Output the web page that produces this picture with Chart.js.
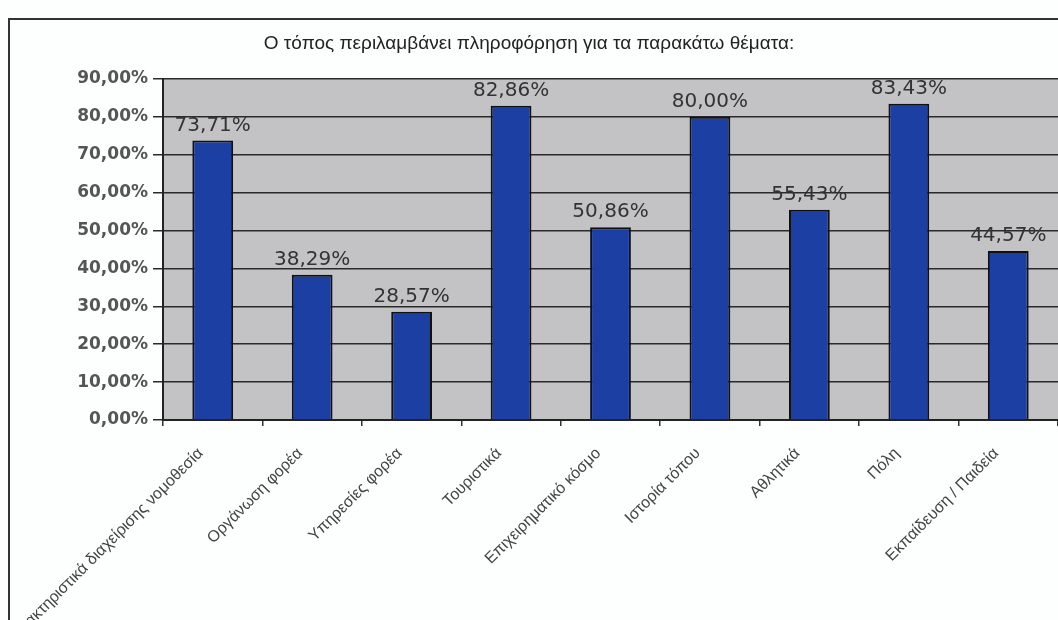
<!DOCTYPE html>
<html>
<head>
    <meta charset="UTF-8">
    <title>Θέματα πληροφόρησης</title>
    <script src="https://cdn.jsdelivr.net/npm/chart.js"></script>
    <style>
        html, body {
            margin: 0;
            padding: 0;
            background: #fdfefe;
        }
        #wrap {
            position: relative;
            width: 1058px;
            height: 620px;
            overflow: hidden;
        }
        #frame {
            position: absolute;
            left: 8px;
            top: 18px;
            width: 1060px;
            height: 610px;
            border-left: 2px solid #333;
            border-top: 2px solid #333;
            pointer-events: none;
        }
    </style>
</head>
<body>
<div id="wrap">
    <canvas id="myBarChart" width="1058" height="620"></canvas>
    <div id="frame"></div>
</div>
<script>
    // δεδομένα του γραφήματος
    const categories = [
        'Χαρακτηριστικά διαχείρισης νομοθεσία',
        'Οργάνωση φορέα',
        'Υπηρεσίες φορέα',
        'Τουριστικά',
        'Επιχειρηματικό κόσμο',
        'Ιστορία τόπου',
        'Αθλητικά',
        'Πόλη',
        'Εκπαίδευση / Παιδεία'
    ];
    const percentValues = [73.71, 38.29, 28.57, 82.86, 50.86, 80.00, 55.43, 83.43, 44.57];
    const yTicks = [0, 10, 20, 30, 40, 50, 60, 70, 80, 90];

    function pct(v) {
        return v.toFixed(2).replace('.', ',') + '%';
    }

    // γκρι φόντο περιοχής σχεδίασης
    const plotBackground = {
        id: 'plotBackground',
        beforeDraw(chart) {
            const a = chart.chartArea;
            const ctx = chart.ctx;
            ctx.save();
            ctx.fillStyle = '#c3c3c5';
            ctx.fillRect(a.left, a.top, a.right - a.left, a.bottom - a.top);
            ctx.restore();
        }
    };

    // ετικέτες τιμών πάνω από τις μπάρες
    const valueLabels = {
        id: 'valueLabels',
        afterDatasetsDraw(chart) {
            const ctx = chart.ctx;
            const meta = chart.getDatasetMeta(0);
            ctx.save();
            ctx.font = '20px "DejaVu Sans"';
            ctx.fillStyle = '#333';
            ctx.textAlign = 'center';
            ctx.textBaseline = 'bottom';
            meta.data.forEach((bar, i) => {
                ctx.fillText(pct(percentValues[i]), bar.x, bar.y - 5);
            });
            ctx.restore();
        }
    };

    let ctx = document.getElementById('myBarChart').getContext('2d');
    new Chart(ctx, {
        type: 'bar',
        data: {
            labels: categories,
            datasets: [{
                data: percentValues,
                backgroundColor: '#1c3fa3',
                borderColor: '#111',
                borderWidth: 2,
                categoryPercentage: 1,
                barPercentage: 0.41
            }]
        },
        options: {
            responsive: false,
            animation: false,
            layout: {padding: {left: 0, right: 0, top: 0, bottom: 0}},
            plugins: {
                legend: {display: false},
                tooltip: {enabled: false},
                title: {
                    display: true,
                    text: 'Ο τόπος περιλαμβάνει πληροφόρηση για τα παρακάτω θέματα:',
                    color: '#222',
                    font: {family: 'Liberation Sans', size: 19, weight: 'normal'},
                    padding: {top: 32, bottom: 24}
                }
            },
            scales: {
                x: {
                    offset: true,
                    grid: {
                        offset: true,
                        drawOnChartArea: false,
                        drawTicks: true,
                        tickLength: 6,
                        color: '#333',
                        lineWidth: 1.5
                    },
                    border: {color: '#222', width: 2},
                    ticks: {
                        autoSkip: false,
                        maxRotation: 45,
                        minRotation: 45,
                        padding: 18,
                        labelOffset: -12,
                        color: '#444',
                        font: {family: 'Liberation Sans', size: 16}
                    },
                    afterFit(scale) {
                        scale.height = 200;
                        scale.paddingLeft = 0;
                        scale.paddingRight = 0;
                    }
                },
                y: {
                    min: 0,
                    max: 90,
                    afterBuildTicks(scale) {
                        scale.ticks = yTicks.map(v => ({value: v}));
                    },
                    grid: {
                        color: '#2a2a2a',
                        lineWidth: 1.5,
                        tickLength: 10
                    },
                    border: {color: '#222', width: 2},
                    ticks: {
                        padding: 5,
                        color: '#555',
                        font: {family: 'DejaVu Sans', size: 17, weight: 'bold'},
                        callback: v => pct(v)
                    },
                    afterFit(scale) {
                        scale.width = 163;
                    }
                }
            }
        },
        plugins: [plotBackground, valueLabels]
    });
</script>
</body>
</html>
